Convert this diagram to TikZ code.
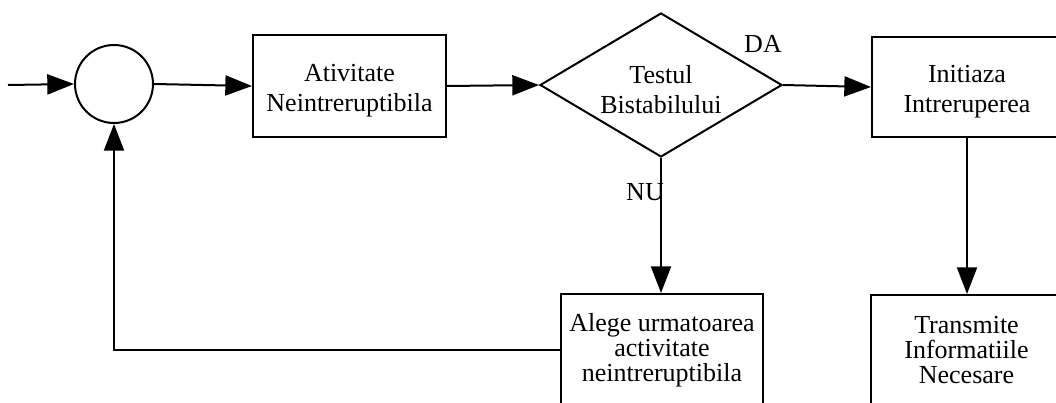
\documentclass[tikz,border=0pt]{standalone}
\usepackage{fontspec}
\setmainfont{Liberation Serif}
\usetikzlibrary{arrows.meta,shapes.geometric}

\tikzset{
  flow/.style={line width=1.5pt, -{Triangle[length=20pt,width=15pt]}},
  txt/.style={font=\fontsize{19.5}{22.5}\selectfont, align=center},
  txtthree/.style={font=\fontsize{19.5}{18.8}\selectfont, align=center},
  block/.style={draw, line width=1.5pt, rectangle, inner sep=0pt},
  % two-line captions sit a little below the centre of their shape
  caption/.style={label={[txt, inner sep=0pt, yshift=-3.5pt]center:{#1}}},
}

\begin{document}
\begin{tikzpicture}[x=0.75pt, y=-0.75pt]
  \useasboundingbox (0,0) rectangle (1056,403);

  % summing junction and its input
  \coordinate (in) at (8,85);
  \node[draw, circle, line width=1.5pt, minimum size=58.5pt, inner sep=0pt] (sum) at (114,84) {};

  % main chain
  \node[block, minimum width=144.75pt, minimum height=76.5pt,
        caption={Ativitate\\Neintreruptibila}] (act) at (349.5,86) {};
  \node[draw, diamond, line width=1.5pt, inner sep=0pt,
        minimum width=181.5pt, minimum height=108pt,
        caption={Testul\\Bistabilului}] (test) at (661,85) {};
  \node[block, minimum width=142.5pt, minimum height=75pt,
        caption={Initiaza\\Intreruperea}] (init) at (967,87) {};

  % lower blocks
  \node[block, txtthree, minimum width=151.5pt, minimum height=84pt] (alege) at (662,350)
    {Alege urmatoarea\\activitate\\neintreruptibila};
  \node[block, txtthree, minimum width=143.25pt, minimum height=82.5pt] (trans) at (966.5,350)
    {Transmite\\Informatiile\\Necesare};

  % branch labels
  \node[txt, inner sep=0pt] (da) at (763,44) {DA};
  \node[txt, inner sep=0pt] (nu) at (645,192) {NU};

  % connectors
  \draw[flow] (in) -- (sum.west);
  \draw[flow] (sum.east) -- (act.west);
  \draw[flow] (act.east) -- (test.west);
  \draw[flow] (test.east) -- (init.west);
  \draw[flow] (test.south) -- (test.south |- alege.north);
  \draw[flow] (init.south) -- (init.south |- trans.north);
  \draw[flow] (alege.west) -| (sum.south);
\end{tikzpicture}
\end{document}
